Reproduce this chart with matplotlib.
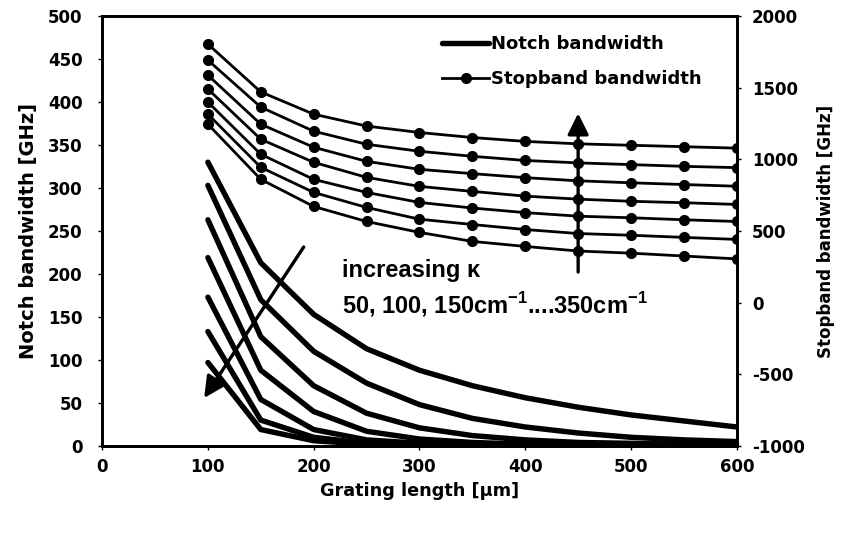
import numpy as np
import matplotlib.pyplot as plt

plt.rcParams['font.family'] = ['DejaVu Sans']
plt.rcParams['axes.unicode_minus'] = False
plt.rcParams['mathtext.fontset'] = 'custom'
plt.rcParams['mathtext.rm'] = 'Liberation Sans'
plt.rcParams['mathtext.bf'] = 'Liberation Sans:bold'

# grating length [um]
length = [100, 150, 200, 250, 300, 350, 400, 450, 500, 550, 600]

# notch bandwidth [GHz], kappa = 50 ... 350 cm-1
notch_50 = [330, 213, 153, 113, 88, 70, 56, 45, 36, 29, 22]
notch_100 = [303, 170, 110, 73, 48, 32, 22, 15, 10, 7, 5]
notch_150 = [263, 127, 70, 38, 21, 12, 7, 4, 3, 2, 1]
notch_200 = [219, 88, 40, 17, 8, 4, 2, 1, 1, 0, 0]
notch_250 = [173, 54, 19, 7, 3, 1, 1, 0, 0, 0, 0]
notch_300 = [133, 30, 10, 3, 1, 0, 0, 0, 0, 0, 0]
notch_350 = [97, 19, 6, 2, 1, 0, 0, 0, 0, 0, 0]

# stopband bandwidth [GHz]
stop_50 = [1245, 860, 671, 566, 490, 427, 392, 360, 345, 325, 305]
stop_100 = [1315, 944, 769, 664, 582, 545, 510, 482, 470, 455, 441]
stop_150 = [1399, 1035, 860, 769, 699, 660, 628, 603, 592, 578, 566]
stop_200 = [1490, 1140, 979, 874, 811, 776, 743, 722, 707, 697, 685]
stop_250 = [1587, 1245, 1084, 986, 930, 900, 872, 850, 836, 824, 812]
stop_300 = [1692, 1364, 1196, 1105, 1056, 1021, 992, 975, 963, 951, 942]
stop_350 = [1804, 1470, 1315, 1232, 1187, 1152, 1125, 1108, 1098, 1088, 1078]

notch = [notch_50, notch_100, notch_150, notch_200, notch_250, notch_300, notch_350]
stop = [stop_50, stop_100, stop_150, stop_200, stop_250, stop_300, stop_350]

fig = plt.figure(figsize=(8.44, 5.34), dpi=100)
ax1 = fig.add_axes([0.121, 0.165, 0.752, 0.805])
ax2 = ax1.twinx()

for n in notch:
    l1, = ax1.plot(length, n, color='black', lw=3.9, solid_capstyle='round',
                   solid_joinstyle='round')
for s in stop:
    l2, = ax2.plot(length, s, color='black', lw=2.0, marker='o', ms=7)

ax1.set_xlim(0, 600)
ax1.set_ylim(0, 500)
ax2.set_ylim(-1000, 2000)
ax1.set_xticks(np.arange(0, 601, 100))
ax1.set_yticks(np.arange(0, 501, 50))
ax2.set_yticks(np.arange(-1000, 2001, 500))

for ax in (ax1, ax2):
    for sp in ax.spines.values():
        sp.set_linewidth(2.0)
    ax.tick_params(length=3, width=1, labelsize=12)
    for t in ax.get_xticklabels() + ax.get_yticklabels():
        t.set_fontweight('bold')
ax1.tick_params(axis='y', pad=11)
ax1.tick_params(axis='x', pad=6)
ax2.tick_params(axis='y', pad=8)

ax1.set_xlabel('Grating length [µm]', fontsize=12.7, fontweight='bold', labelpad=4)
ax1.set_ylabel('Notch bandwidth [GHz]', fontsize=14, fontweight='bold', labelpad=7)
ax2.set_ylabel('Stopband bandwidth [GHz]', fontsize=12, fontweight='bold', labelpad=9)

# arrows showing the direction of increasing kappa
ax1.annotate('', xy=(95, 53), xytext=(192, 234),
             arrowprops=dict(arrowstyle='-|>', lw=2.4, color='black', mutation_scale=32))
ax1.annotate('', xy=(450, 390), xytext=(450, 199),
             arrowprops=dict(arrowstyle='-|>', lw=2.4, color='black', mutation_scale=32))

lab_font = ['Liberation Sans', 'DejaVu Sans']
ax1.text(227, 204, 'increasing κ', fontsize=17, family=lab_font, fontweight='bold',
         va='center')
ax1.text(227, 164, r'50, 100, 150cm$^{\mathbf{-1}}$....350cm$^{\mathbf{-1}}$', fontsize=17,
         family=lab_font, fontweight='bold', va='center')

leg = ax2.legend([l1, l2], ['Notch bandwidth', 'Stopband bandwidth'],
                 loc='upper left', bbox_to_anchor=(0.505, 0.965),
                 bbox_transform=fig.transFigure, frameon=False,
                 handlelength=2.6, handletextpad=0.1, labelspacing=0.95,
                 prop={'weight': 'bold', 'size': 13})

fig.savefig('out.png', dpi=100)
